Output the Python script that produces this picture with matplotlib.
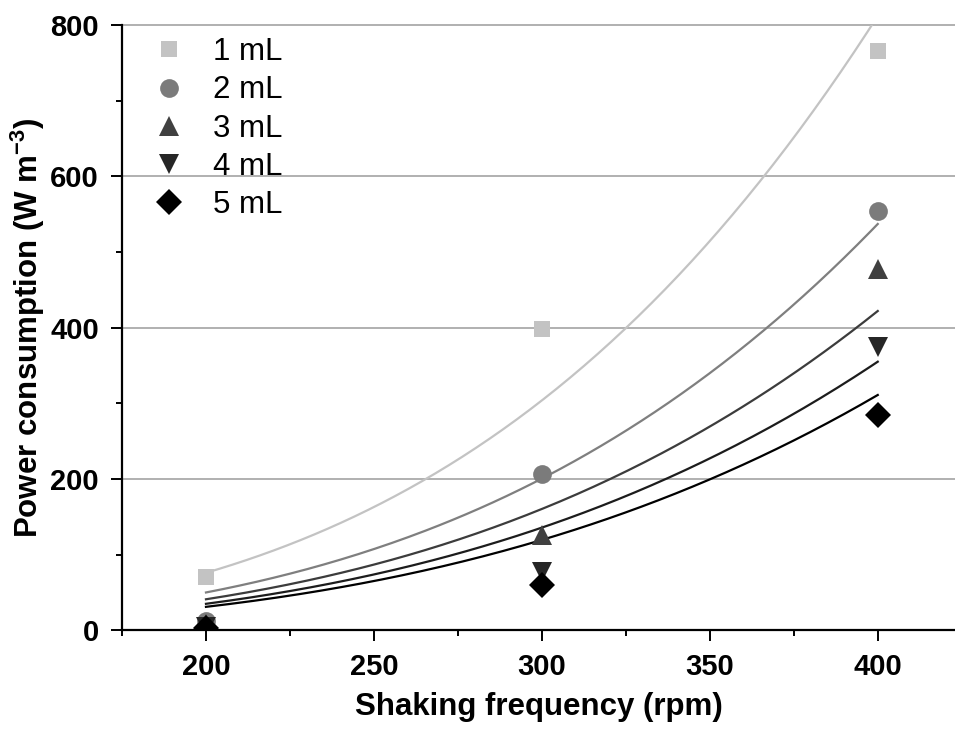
import numpy as np
import matplotlib
matplotlib.use("Agg")
import matplotlib.pyplot as plt
from matplotlib.ticker import MultipleLocator

plt.rcParams['font.family'] = ['Liberation Sans', 'DejaVu Sans']
plt.rcParams['mathtext.fontset'] = 'custom'
plt.rcParams['mathtext.rm'] = 'Liberation Sans:bold'
plt.rcParams['mathtext.bf'] = 'Liberation Sans:bold'
plt.rcParams['mathtext.default'] = 'bf'

# ---- data ----
freq = [200, 300, 400]
labels = ['1 mL', '2 mL', '3 mL', '4 mL', '5 mL']
p_1ml = [71, 398, 765]
p_2ml = [12, 207, 554]
p_3ml = [8, 126, 478]
p_4ml = [4, 77, 375]
p_5ml = [3, 60, 285]
series = [p_1ml, p_2ml, p_3ml, p_4ml, p_5ml]

# power-law fit curves, read as fit values at 200 and 400 rpm
fit_at_200 = [76, 50, 41, 35, 31]
fit_at_400 = [812, 537, 422, 355, 311]

marker_colors = ['#c3c3c3', '#7b7b7b', '#404040', '#262626', '#000000']
line_colors = ['#c3c3c3', '#7f7f7f', '#3c3c3c', '#1c1c1c', '#000000']
markers = ['s', 'o', '^', 'v', 'D']
msizes = [12, 13.5, 15, 15, 13]

fig = plt.figure(figsize=(9.55, 7.36), dpi=100)
ax = fig.add_axes([122/955, 1-630.3/736, 1-122/955, (630.3-25)/736])

ax.set_xlim(175, 423)
ax.set_ylim(0, 800)

for v in [200, 400, 600, 800]:
    ax.axhline(v, color='#b0b0b0', lw=1.4, zorder=0, clip_on=False)

xs = np.linspace(200, 400, 200)
for f2, f4, lc in zip(fit_at_200, fit_at_400, line_colors):
    n = np.log(f4 / f2) / np.log(2.0)
    ax.plot(xs, f2 * (xs / 200.0) ** n, color=lc, lw=1.6, zorder=2)

handles = []
for vals, lab, mc, mk, ms in zip(series, labels, marker_colors, markers, msizes):
    h, = ax.plot(freq, vals, linestyle='none', marker=mk, markersize=ms,
                 color=mc, markeredgewidth=0, label=lab, zorder=3)
    handles.append(h)

leg = ax.legend(handles=handles, loc='upper left', bbox_to_anchor=(0.006, 1.008),
                frameon=False, fontsize=22.5, handletextpad=0.6,
                labelspacing=0.26, borderaxespad=0.35, handlelength=1.6,
                borderpad=0.2)

for s in ['top', 'right']:
    ax.spines[s].set_visible(False)
for s in ['left', 'bottom']:
    ax.spines[s].set_linewidth(1.6)
    ax.spines[s].set_color('black')

ax.xaxis.set_major_locator(MultipleLocator(50))
ax.xaxis.set_minor_locator(MultipleLocator(25))
ax.yaxis.set_major_locator(MultipleLocator(200))
ax.yaxis.set_minor_locator(MultipleLocator(100))
ax.tick_params(which='major', direction='out', length=8, width=1.4, labelsize=21)
ax.tick_params(which='minor', direction='out', length=4, width=1.4)
ax.tick_params(axis='x', which='major', pad=8.6)
ax.tick_params(axis='y', which='major', pad=8.7)
for lbl in ax.get_xticklabels() + ax.get_yticklabels():
    lbl.set_fontweight('bold')

ax.set_xlabel('Shaking frequency (rpm)', fontsize=22.5, fontweight='bold', labelpad=8)
ax.set_ylabel('Power consumption (W m$^{-3}$)', fontsize=22.5, fontweight='bold', labelpad=2)

fig.savefig('out.png', dpi=100)
